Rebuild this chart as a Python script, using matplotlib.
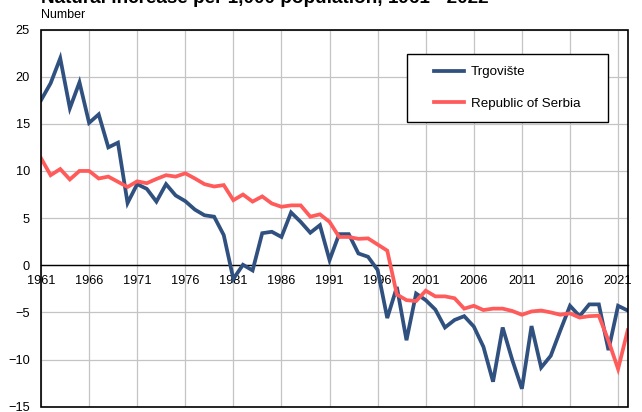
import matplotlib
matplotlib.use('Agg')
import matplotlib.pyplot as plt
from matplotlib.patches import Rectangle
from matplotlib.legend_handler import HandlerLine2D
import numpy as np

###############################################################################
#0. Data
###############################################################################
years = list(range(1961, 2023))

trgoviste = [17.5, 19.3, 21.95, 16.65, 19.4, 15.1, 16.0, 12.5, 13.0, 6.6,
             8.6, 8.1, 6.75, 8.6, 7.4, 6.8, 5.9, 5.3, 5.15, 3.2,
             -1.45, 0.05, -0.55, 3.4, 3.55, 3.0, 5.6, 4.6, 3.45, 4.25,
             0.55, 3.3, 3.3, 1.25, 0.9, -0.5, -5.6, -2.3, -7.95, -3.0,
             -3.7, -4.7, -6.6, -5.8, -5.4, -6.5, -8.65, -12.35, -6.6, -10.05,
             -13.1, -6.45, -10.85, -9.6, -6.9, -4.3, -5.4, -4.15, -4.15, -9.0,
             -4.3, -4.8]

serbia = [11.35, 9.55, 10.2, 9.1, 10.0, 10.0, 9.2, 9.4, 8.85, 8.3,
          8.9, 8.7, 9.15, 9.55, 9.4, 9.75, 9.2, 8.6, 8.35, 8.5,
          6.9, 7.5, 6.75, 7.3, 6.55, 6.2, 6.35, 6.35, 5.15, 5.4,
          4.6, 3.0, 3.0, 2.8, 2.85, 2.2, 1.55, -3.1, -3.7, -3.8,
          -2.7, -3.3, -3.3, -3.5, -4.6, -4.3, -4.75, -4.6, -4.6, -4.85,
          -5.25, -4.9, -4.8, -5.0, -5.25, -5.1, -5.55, -5.4, -5.35, -8.0,
          -11.0, -6.9]

series_names = ['Trgovište', 'Republic of Serbia']
series_colors = ['#30507F', '#FF5B5B']

xtick_years = list(range(1961, 2023, 5))
ytick_values = list(range(-15, 26, 5))

###############################################################################
#1. Plot
###############################################################################
plt.rcParams['font.family'] = ['Liberation Sans', 'DejaVu Sans']
plt.rcParams['font.size'] = 9.2

fig = plt.figure(figsize=(6.42, 4.12), dpi=100)
ax = fig.add_axes([41/642, 1-406.7/412, (627.7-41)/642, (406.7-29.5)/412])

ax.plot(years, trgoviste, color=series_colors[0], lw=2.7, label=series_names[0],
        solid_joinstyle='miter', zorder=3)
ax.plot(years, serbia, color=series_colors[1], lw=2.7, label=series_names[1],
        solid_joinstyle='miter', zorder=3)

ax.set_xlim(1961, 2022)
ax.set_ylim(-15, 25)
ax.set_xticks(xtick_years)
ax.set_yticks(ytick_values)
ax.grid(True, color='#c4c4c4', lw=0.9)
ax.set_axisbelow(True)

#Move x axis to zero and frame the plot area
for side in ['top', 'right', 'left']:
    ax.spines[side].set_visible(False)
ax.spines['bottom'].set_position(('data', 0))
ax.spines['bottom'].set_linewidth(1.0)
ax.add_patch(Rectangle((0, 0), 1, 1, transform=ax.transAxes, fill=False,
                       ec='black', lw=1.2, clip_on=False, zorder=4))
ax.tick_params(axis='x', length=0, pad=7, labelsize=9.2)
ax.tick_params(axis='y', length=0, pad=8, labelsize=9.2)

#Titles
fig.text(41/642, 1-3/412, 'Natural increase per 1,000 population, 1961 - 2022',
         fontsize=13.6, fontweight='bold', va='baseline', ha='left')
fig.text(41/642, 1-18.3/412, 'Number', fontsize=9, va='baseline', ha='left')

#Legend
lfs = 9.6
fs = lfs*100/72
leg = ax.legend(loc='upper left', bbox_to_anchor=(407/642, 1-117/412, 201/642, 63/412),
                bbox_transform=fig.transFigure, mode='expand', borderaxespad=0,
                borderpad=0.9, handlelength=3.4, handletextpad=0.5, labelspacing=1.42,
                fancybox=False, framealpha=1, edgecolor='black', fontsize=lfs,
                handler_map={plt.Line2D: HandlerLine2D(xpad=15/fs)})
leg.get_frame().set_linewidth(1.0)

fig.savefig('out.png', dpi=100)
